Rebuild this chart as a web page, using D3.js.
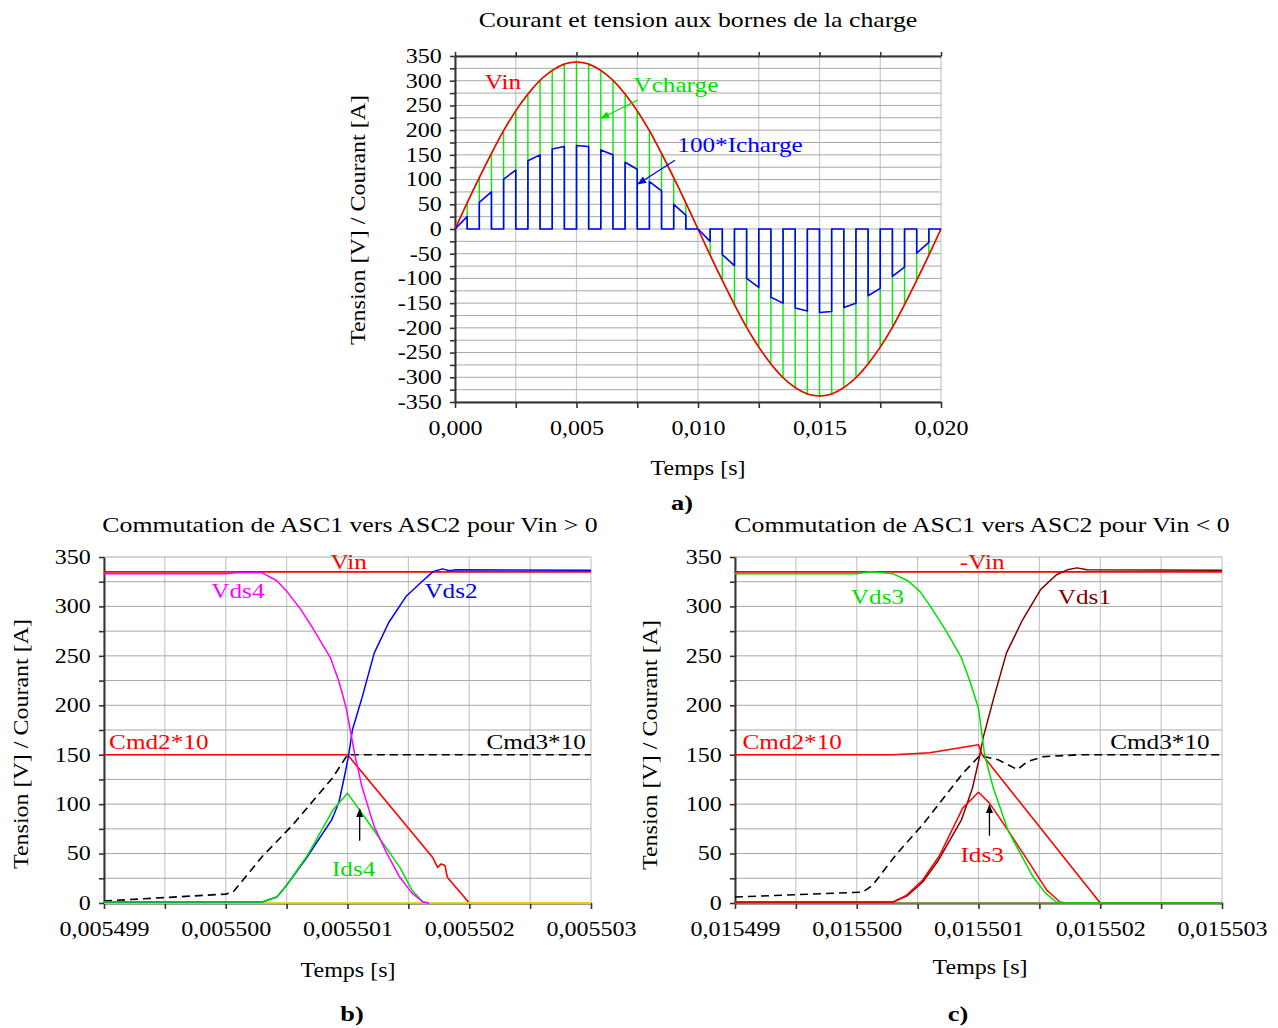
<!DOCTYPE html>
<html>
<head>
<meta charset="utf-8">
<script src="https://cdn.jsdelivr.net/npm/d3@7"></script>
<style>
  body { margin: 0; background: #fff; }
  svg text { font-family: "Liberation Serif", "Times New Roman", serif; }
</style>
</head>
<body>
<svg id="chart" width="1278" height="1028"></svg>
<script>
// ---------- panel a : one full period ----------
const tA = [0, 0.0005, 0.001, 0.0015, 0.002, 0.0025, 0.003, 0.0035, 0.004, 0.0045,
  0.005, 0.0055, 0.006, 0.0065, 0.007, 0.0075, 0.008, 0.0085, 0.009, 0.0095,
  0.01, 0.0105, 0.011, 0.0115, 0.012, 0.0125, 0.013, 0.0135, 0.014, 0.0145,
  0.015, 0.0155, 0.016, 0.0165, 0.017, 0.0175, 0.018, 0.0185, 0.019, 0.0195, 0.02];
const vinA = [0, 53, 104, 153, 199, 239, 273, 301, 321, 334,
  338, 334, 321, 301, 273, 239, 199, 153, 104, 53,
  0, -53, -104, -153, -199, -239, -273, -301, -321, -334,
  -338, -334, -321, -301, -273, -239, -199, -153, -104, -53, 0];
// Vcharge envelope read at the switching instants (same samples as Vin)
const vchargeA = vinA;
// 100*Icharge : conduction pulses
const iStart = [0, 0.001, 0.002, 0.003, 0.004, 0.005, 0.006, 0.007, 0.008, 0.009,
  0.01, 0.011, 0.012, 0.013, 0.014, 0.015, 0.016, 0.017, 0.018, 0.019];
const iEnd = [0.0005, 0.0015, 0.0025, 0.0035, 0.0045, 0.0055, 0.0065, 0.0075, 0.0085, 0.0095,
  0.0105, 0.0115, 0.0125, 0.0135, 0.0145, 0.0155, 0.0165, 0.0175, 0.0185, 0.0195];
const iFrom = [0, 54, 101, 138, 162, 169, 160, 135, 96, 50,
  0, -52, -100, -138, -160, -169, -159, -135, -96, -49];
const iTo = [25, 75, 119, 150, 167, 167, 150, 121, 77, 28,
  -25, -74, -118, -150, -166, -167, -150, -120, -77, -27];

// ---------- panel b : Vin > 0 ----------
const vinBt = [0.005499, 0.005503];
const vinBv = [335, 335];
const vds4t = [0.005499, 0.0055, 0.00550009, 0.0055003, 0.00550042, 0.00550051, 0.00550061, 0.00550071,
  0.00550086, 0.00550093, 0.00550099, 0.00550106, 0.00550112, 0.00550122, 0.00550132, 0.00550143,
  0.00550153, 0.00550162, 0.00550167];
const vds4v = [333, 333, 334, 334, 326, 314, 298, 279, 248, 224, 197, 150, 117, 77, 51, 26, 10, 1, 0];
const vds2t = [0.005499, 0.0055003, 0.00550042, 0.0055005, 0.00550066, 0.00550087, 0.00550093, 0.00550098,
  0.00550101, 0.00550104, 0.00550112, 0.00550122, 0.00550134, 0.00550148, 0.00550161, 0.0055017,
  0.00550178, 0.00550184, 0.00550189, 0.005503];
const vds2v = [1, 1, 6, 18, 45, 84, 102, 131, 150, 175, 208, 253, 284, 310, 325, 335, 338, 336, 337, 336.5];
const ids4t = [0.005499, 0.0055003, 0.00550042, 0.0055005, 0.00550067, 0.00550088, 0.005501, 0.0055011,
  0.00550126, 0.00550143, 0.00550153, 0.00550162, 0.00550167];
const ids4v = [1, 1, 6, 18, 48, 94, 111, 94, 66, 36, 13, 1, 0];
const cmd2Bt = [0.005499, 0.005501, 0.0055017, 0.00550174, 0.00550177, 0.0055018, 0.00550182, 0.005502, 0.005503];
const cmd2Bv = [150, 150, 46, 36, 39.5, 38, 26, 0, 0];
const cmd3Bt = [0.005499, 0.0055, 0.00550006, 0.0055003, 0.00550055, 0.00550088, 0.005501, 0.005503];
const cmd3Bv = [2, 9, 11, 47, 79, 127, 150, 150];
const ids2Bt = [0.005499, 0.005503];
const ids2Bv = [0, 0];

// ---------- panel c : Vin < 0 ----------
const vinCt = [0.015499, 0.015503];
const vinCv = [335, 335];
const vds3t = [0.015499, 0.0155, 0.01550011, 0.0155003, 0.01550042, 0.01550052, 0.0155006, 0.01550074,
  0.01550086, 0.01550093, 0.015501, 0.01550105, 0.01550112, 0.01550124, 0.01550134, 0.01550145,
  0.01550155, 0.01550164, 0.01550169, 0.015503];
const vds3v = [333, 333, 335, 333, 326, 315, 301, 274, 248, 224, 197, 150, 117, 74, 51, 26, 10, 1, 0, 0];
const vds1t = [0.015499, 0.0155003, 0.01550041, 0.01550054, 0.01550067, 0.01550086, 0.01550095, 0.015501,
  0.01550104, 0.01550112, 0.01550123, 0.01550136, 0.01550151, 0.01550164, 0.01550173, 0.01550181,
  0.01550189, 0.015503];
const vds1v = [1, 1, 7, 21, 43, 84, 116, 143, 168, 205, 253, 286, 317, 332, 337, 339, 337, 336.5];
const ids3t = [0.015499, 0.0155003, 0.01550041, 0.01550054, 0.01550068, 0.01550087, 0.015501, 0.01550109,
  0.01550124, 0.01550142, 0.01550156, 0.01550167, 0.01550171];
const ids3v = [1, 1, 8, 23, 48, 96, 112, 101, 74, 40, 13, 1, 0];
const cmd2Ct = [0.015499, 0.0155003, 0.0155006, 0.015501, 0.01550103, 0.015502, 0.015503];
const cmd2Cv = [150, 150, 152, 160, 150, 0, 0];
const cmd3Ct = [0.015499, 0.01550005, 0.01550013, 0.01550033, 0.01550054, 0.01550087, 0.01550101,
  0.01550116, 0.01550132, 0.0155014, 0.01550153, 0.01550183, 0.015503];
const cmd3Cv = [6, 11, 18, 50, 79, 131, 149, 145, 135, 143, 148, 150, 150];
const zeroCt = [0.015499, 0.015503];
const zeroCv = [0, 0];

// ---------- drawing ----------
const SX = 1.2; // the original serif type is a little wider than Liberation Serif
const svg = d3.select("#chart");
const loc = d3.formatLocale({decimal: ",", thousands: " ", grouping: [3], currency: ["", ""], minus: "-"});

function txt(g, x, y, s, o = {}) {
  return g.append("text")
    .attr("transform", `translate(${x},${y})` + (o.rotate ? ` rotate(${o.rotate})` : "") + ` scale(${SX},1)`)
    .attr("text-anchor", o.anchor || "middle")
    .attr("dy", "0.35em")
    .attr("fill", o.color || "#000")
    .style("font-size", (o.size || 20) + "px")
    .style("font-weight", o.weight || "normal")
    .text(s);
}

function pts(ts, vs) { return d3.zip(ts, vs).map(d => ({t: d[0], v: d[1]})); }

function panel(p) {
  const g = svg.append("g");
  const x = d3.scaleLinear().domain(p.xDomain).range(p.xRange);
  const y = d3.scaleLinear().domain(p.yDomain).range(p.yRange);

  // grid
  g.selectAll(".vg").data(p.xGrid).enter().append("line")
    .attr("x1", d => x(d)).attr("x2", d => x(d))
    .attr("y1", y(p.yDomain[0])).attr("y2", y(p.yDomain[1]))
    .attr("stroke", "#c8c8c8").attr("stroke-width", 1.2);
  g.selectAll(".hg").data(p.yGrid).enter().append("line")
    .attr("x1", x(p.xDomain[0])).attr("x2", x(p.xDomain[1]))
    .attr("y1", d => y(d)).attr("y2", d => y(d))
    .attr("stroke", "#a8a8a8").attr("stroke-width", 1);

  // axes (under the curves, as in the original)
  const fmt = loc.format(p.xFmt);
  g.append("g").attr("transform", `translate(${x(p.xDomain[0])},0)`)
    .call(d3.axisLeft(y).tickValues(p.yTicks).tickSize(5).tickSizeOuter(0).tickPadding(6)
      .tickFormat(d => d % 50 === 0 ? loc.format("d")(d) : ""));
  g.append("g").attr("transform", `translate(0,${p.xAxisY})`)
    .call(d3.axisBottom(x).tickValues(p.xGrid).tickSize(6).tickSizeOuter(0).tickPadding(13)
      .tickFormat((d, i) => i % 2 === 0 ? fmt(d) : ""));
  if (p.topAxis) {
    g.append("g").attr("transform", `translate(0,${y(p.yDomain[1])})`)
      .call(d3.axisTop(x).tickValues(p.xGrid).tickSize(4).tickSizeOuter(0).tickFormat(""));
  }
  g.selectAll(".domain").attr("stroke", "#333").attr("stroke-width", 2);
  g.selectAll(".tick line").attr("stroke", "#333").attr("stroke-width", 1.6);
  g.selectAll(".tick text")
    .attr("fill", "#000")
    .style("font-family", "'Liberation Serif', serif")
    .style("font-size", p.tickSize + "px")
    .attr("transform", `scale(${SX},1)`);

  // series
  p.series.forEach(s => {
    g.append("path")
      .datum(s.data)
      .attr("fill", "none")
      .attr("stroke", s.color)
      .attr("stroke-width", s.width || 1.5)
      .attr("stroke-dasharray", s.dash || null)
      .attr("stroke-linejoin", "round")
      .attr("d", d3.line().x(d => x(d.t)).y(d => y(d.v)).curve(s.curve || d3.curveLinear));
  });

  // labels
  p.labels.forEach(l => txt(g, x(l.t), y(l.v), l.text, {color: l.color, size: p.labelSize}));
  p.arrows.forEach(a => {
    g.append("line")
      .attr("x1", x(a.t0)).attr("y1", y(a.v0)).attr("x2", x(a.t1)).attr("y2", y(a.v1))
      .attr("stroke", a.color).attr("stroke-width", 1.3)
      .attr("marker-end", `url(#arr-${a.marker})`);
  });

  txt(g, p.titlePos[0], p.titlePos[1], p.title, {size: p.titleSize});
  txt(g, p.ylabPos[0], p.ylabPos[1], "Tension [V] / Courant [A]", {size: p.axisLabelSize, rotate: -90});
  txt(g, p.xlabPos[0], p.xlabPos[1], "Temps [s]", {size: p.axisLabelSize});
  txt(g, p.tagPos[0], p.tagPos[1], p.tag, {size: 22, weight: "bold"});
}

// arrow heads
const defs = svg.append("defs");
[["k", "#000"], ["g", "#00e000"], ["b", "#0000ff"]].forEach(([id, c]) => {
  defs.append("marker").attr("id", "arr-" + id)
    .attr("viewBox", "0 0 10 10").attr("refX", 9).attr("refY", 5)
    .attr("markerWidth", 7).attr("markerHeight", 7).attr("orient", "auto")
    .append("path").attr("d", "M0,1 L10,5 L0,9 z").attr("fill", c);
});

// panel a data build
const vchargePts = [];
tA.forEach((t, k) => {
  vchargePts.push({t, v: vchargeA[k]});
  if (k > 0 && k < tA.length - 1) { vchargePts.push({t, v: 0}); vchargePts.push({t, v: vchargeA[k]}); }
});
const ichargePts = [];
iStart.forEach((s, i) => {
  ichargePts.push({t: s, v: 0});
  ichargePts.push({t: s, v: iFrom[i]});
  ichargePts.push({t: iEnd[i], v: iTo[i]});
  ichargePts.push({t: iEnd[i], v: 0});
});
ichargePts.push({t: tA[tA.length - 1], v: 0});

const ticks25 = d3.range(0, 29).map(i => -350 + 25 * i);
const ticks25p = d3.range(0, 15).map(i => 25 * i);

panel({
  xDomain: [0, 0.02], xRange: [455, 941], yDomain: [-350, 350], yRange: [402, 56],
  xGrid: d3.range(0, 9).map(i => i * 0.0025), yGrid: ticks25, yTicks: ticks25,
  xAxisY: 402, topAxis: true, xFmt: ".3f", tickSize: 20, labelSize: 21,
  series: [
    {data: vchargePts, color: "#00ee00", width: 1.4},
    {data: pts(tA, vinA), color: "#ff0000", width: 1.6, curve: d3.curveNatural},
    {data: ichargePts, color: "#0000ff", width: 1.6}
  ],
  labels: [
    {t: 0.00197, v: 298, text: "Vin", color: "#ff0000"},
    {t: 0.00909, v: 293, text: "Vcharge", color: "#00e000"},
    {t: 0.01173, v: 170, text: "100*Icharge", color: "#0000ff"}
  ],
  arrows: [
    {t0: 0.00753, v0: 261, t1: 0.00601, v1: 224, color: "#00e000", marker: "g"},
    {t0: 0.00905, v0: 139, t1: 0.00753, v1: 91, color: "#0000ff", marker: "b"}
  ],
  title: "Courant et tension aux bornes de la charge", titlePos: [698, 19], titleSize: 21.5,
  ylabPos: [358, 220], xlabPos: [698, 468], axisLabelSize: 20,
  tag: "a)", tagPos: [682, 502]
});

panel({
  xDomain: [0.005499, 0.005503], xRange: [104, 591], yDomain: [0, 350], yRange: [903, 557],
  xGrid: d3.range(0, 9).map(i => 0.005499 + i * 0.0000005), yGrid: ticks25p, yTicks: ticks25p,
  xAxisY: 903, topAxis: false, xFmt: ".6f", tickSize: 20, labelSize: 21,
  series: [
    {data: pts(vinBt, vinBv), color: "#ff0000", width: 1.8},
    {data: pts(cmd2Bt, cmd2Bv), color: "#ff0000", width: 1.6},
    {data: pts(ids2Bt, ids2Bv), color: "#ffff00", width: 1.6},
    {data: pts(cmd3Bt, cmd3Bv), color: "#000", width: 1.6, dash: "8,5"},
    {data: pts(vds2t, vds2v), color: "#0000ff", width: 1.5},
    {data: pts(ids4t, ids4v), color: "#00e000", width: 1.5},
    {data: pts(vds4t, vds4v), color: "#ff00ff", width: 1.5}
  ],
  labels: [
    {t: 0.00550101, v: 345, text: "Vin", color: "#ff0000"},
    {t: 0.0055001, v: 316, text: "Vds4", color: "#ff00ff"},
    {t: 0.00550185, v: 316, text: "Vds2", color: "#0000ff"},
    {t: 0.00549945, v: 163, text: "Cmd2*10", color: "#ff0000"},
    {t: 0.00550255, v: 163, text: "Cmd3*10", color: "#000"},
    {t: 0.00550105, v: 35, text: "Ids4", color: "#00e000"}
  ],
  arrows: [{t0: 0.0055011, v0: 63, t1: 0.0055011, v1: 95, color: "#000", marker: "k"}],
  title: "Commutation de ASC1 vers ASC2 pour Vin > 0", titlePos: [350, 524], titleSize: 21.5,
  ylabPos: [21, 744], xlabPos: [348, 970], axisLabelSize: 20,
  tag: "b)", tagPos: [352, 1013]
});

panel({
  xDomain: [0.015499, 0.015503], xRange: [735, 1222], yDomain: [0, 350], yRange: [903, 557],
  xGrid: d3.range(0, 9).map(i => 0.015499 + i * 0.0000005), yGrid: ticks25p, yTicks: ticks25p,
  xAxisY: 903, topAxis: false, xFmt: ".6f", tickSize: 20, labelSize: 21,
  series: [
    {data: pts(vinCt, vinCv), color: "#ff0000", width: 1.8},
    {data: pts(zeroCt, zeroCv), color: "#9a9a30", width: 1.6},
    {data: pts(cmd2Ct, cmd2Cv), color: "#ff0000", width: 1.6},
    {data: pts(cmd3Ct, cmd3Cv), color: "#000", width: 1.6, dash: "8,5"},
    {data: pts(vds1t, vds1v), color: "#800000", width: 1.5},
    {data: pts(ids3t, ids3v), color: "#ff0000", width: 1.5},
    {data: pts(vds3t, vds3v), color: "#00e000", width: 1.5}
  ],
  labels: [
    {t: 0.01550103, v: 345, text: "-Vin", color: "#ff0000"},
    {t: 0.01550017, v: 310, text: "Vds3", color: "#00e000"},
    {t: 0.01550187, v: 310, text: "Vds1", color: "#800000"},
    {t: 0.01549947, v: 163, text: "Cmd2*10", color: "#ff0000"},
    {t: 0.01550249, v: 163, text: "Cmd3*10", color: "#000"},
    {t: 0.01550103, v: 49, text: "Ids3", color: "#ff0000"}
  ],
  arrows: [{t0: 0.01550109, v0: 68, t1: 0.01550109, v1: 99, color: "#000", marker: "k"}],
  title: "Commutation de ASC1 vers ASC2 pour Vin < 0", titlePos: [982, 524], titleSize: 21.5,
  ylabPos: [650, 745], xlabPos: [980, 967], axisLabelSize: 20,
  tag: "c)", tagPos: [958, 1013]
});
</script>
</body>
</html>
